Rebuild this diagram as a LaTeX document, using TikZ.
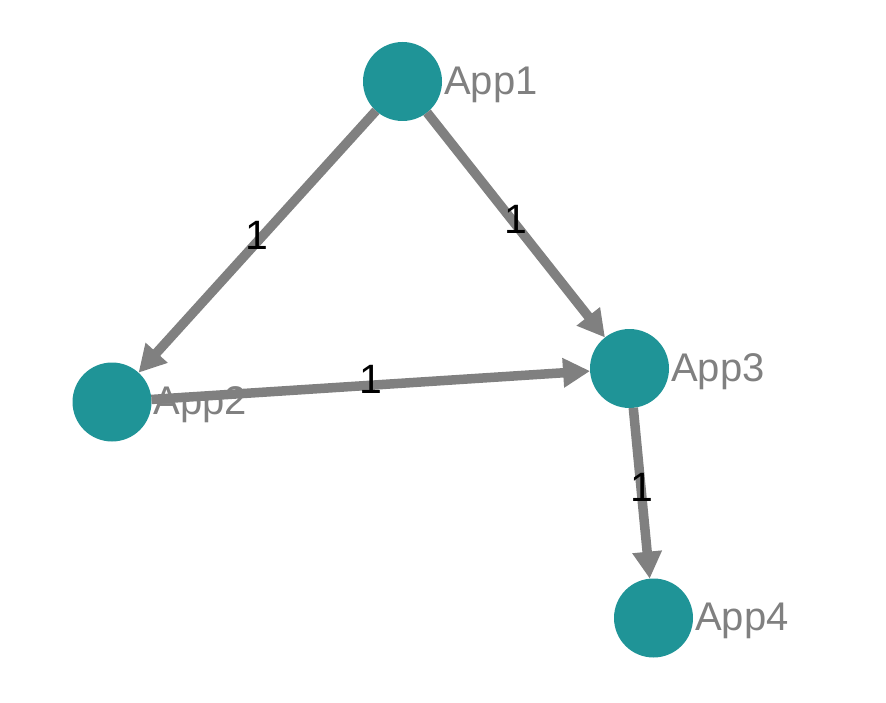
\documentclass[tikz,border=0pt]{standalone}
\usepackage{fontspec}
\setmainfont{Liberation Sans}
\usetikzlibrary{arrows.meta}
\definecolor{teal1}{HTML}{1F9497}
\definecolor{edgegray}{HTML}{808080}
\tikzset{
  appnode/.style={circle, fill=teal1, draw=none, minimum size=79pt, inner sep=0pt, outer sep=0pt},
  applabel/.style={anchor=west, inner sep=0pt, text=edgegray, font=\fontsize{40}{40}\selectfont},
  edge/.style={draw=edgegray, line width=9.5pt, -{Triangle[length=27pt,width=28pt]}},
  elabel/.style={text=black, inner sep=0pt, font=\fontsize{41}{41}\selectfont, yshift=6pt}
}
\begin{document}
\begin{tikzpicture}[x=1pt,y=-1pt]
\useasboundingbox (0,0) rectangle (886,703);
\node[appnode] (a1) at (402.5,81.5) {};
\node[appnode] (a2) at (112,402) {};
\node[appnode] (a3) at (629.5,368.5) {};
\node[appnode] (a4) at (653.5,618) {};
\draw[edge] (a1) -- (a2);
\draw[edge] (a1) -- (a3);
\draw[edge] (a2) -- (a3);
\draw[edge] (a3) -- (a4);
\path (a1.center) -- (a2.center) node[midway, elabel] (l12) {1};
\path (a1.center) -- (a3.center) node[midway, elabel] (l13) {1};
\path (a2.center) -- (a3.center) node[midway, elabel] (l23) {1};
\path (a3.center) -- (a4.center) node[midway, elabel] (l34) {1};
\node[applabel] (t1) at ([xshift=2pt,yshift=-3pt]a1.east) {App1};
\node[applabel] (t2) at ([xshift=2pt,yshift=-3pt]a2.east) {App2};
\node[applabel] (t3) at ([xshift=2pt,yshift=-3pt]a3.east) {App3};
\node[applabel] (t4) at ([xshift=2pt,yshift=-3pt]a4.east) {App4};
\end{tikzpicture}
\end{document}
